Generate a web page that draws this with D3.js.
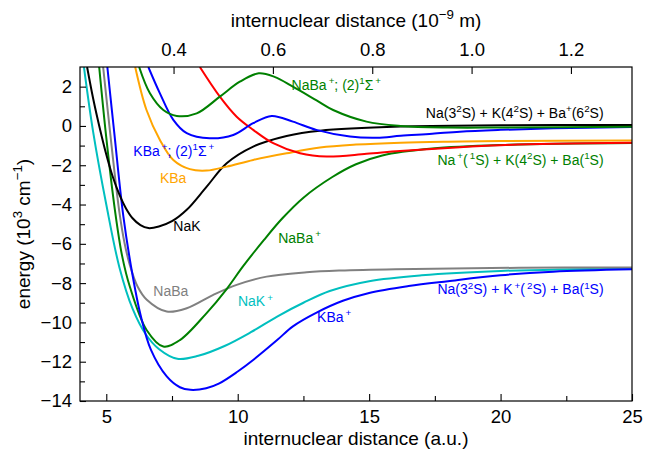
<!DOCTYPE html>
<html>
<head>
<meta charset="utf-8">
<script src="https://cdn.jsdelivr.net/npm/d3@7"></script>
<style>
  html, body { margin: 0; padding: 0; background: #fff; }
  svg { display: block; font-family: "Liberation Sans", Arial, Helvetica, sans-serif; }
</style>
</head>
<body>
<svg id="chart" width="657" height="452"></svg>
<script>
// Potential energy curves, [internuclear distance (a.u.), energy (10^3 cm^-1)]
const nakIon = [[4.15,3],[4.5,-0.3],[5.0,-4.0],[5.5,-7.2],[6.0,-9.3],[6.5,-10.6],[7.0,-11.35],[7.7,-11.85],[8.5,-11.7],[9.5,-11.2],[10.5,-10.5],[11.5,-9.7],[12.5,-9.0],[13.5,-8.4],[15,-7.9],[17,-7.6],[20,-7.38],[25,-7.25]];
const kbaIon = [[5.04,3],[5.3,-0.3],[5.65,-4.6],[6.0,-7.6],[6.3,-9.6],[6.7,-11.4],[7.3,-12.75],[7.8,-13.3],[8.2,-13.43],[8.8,-13.35],[9.3,-13.1],[10,-12.5],[10.6,-11.9],[11.5,-10.9],[12.1,-10.2],[13,-9.5],[14,-8.9],[15,-8.5],[16.5,-8.15],[18,-7.9],[20,-7.6],[22,-7.42],[25,-7.3]];
const nabaIon = [[4.73,3],[5.0,-0.6],[5.33,-4.3],[5.6,-6.6],[5.9,-8.2],[6.54,-10.4],[7.17,-11.23],[7.8,-10.9],[8.8,-9.55],[9.58,-8.3],[10.2,-7.15],[11,-5.8],[11.7,-4.7],[12.5,-3.65],[13.6,-2.6],[14.5,-1.95],[15.5,-1.5],[17.4,-1.15],[20,-0.97],[25,-0.87]];
const naba = [[4.88,3],[5.2,-1.0],[5.5,-4.4],[5.7,-6.0],[5.9,-7.1],[6.2,-8.2],[6.54,-8.85],[7.3,-9.45],[8.06,-9.28],[9.07,-8.6],[9.96,-8.09],[11.1,-7.67],[12.62,-7.45],[13.89,-7.36],[16,-7.29],[20.7,-7.22],[25,-7.2]];
const nak = [[4.27,3],[4.5,1.4],[4.75,-0.1],[5.0,-1.45],[5.25,-2.6],[5.5,-3.5],[5.75,-4.2],[6.0,-4.7],[6.3,-5.05],[6.6,-5.2],[7.0,-5.12],[7.5,-4.85],[8.06,-4.27],[8.82,-3.09],[9.58,-1.9],[10.59,-1.05],[11.86,-0.51],[13.13,-0.24],[16.2,-0.03],[20,0.03],[25,0.05]];
const kba = [[6.1,3],[6.53,0.81],[7.04,-0.71],[7.55,-1.73],[8.18,-2.2],[8.82,-2.27],[9.58,-2.07],[10.59,-1.73],[11.86,-1.39],[13.13,-1.1],[14.5,-0.95],[16.2,-0.85],[18,-0.8],[20,-0.77],[25,-0.74]];
const kbaIon2 = [[6.6,3],[7.04,1.66],[7.55,0.31],[8.06,-0.37],[8.94,-0.63],[9.83,-0.46],[10.59,0.14],[11.29,0.51],[12.1,0.22],[12.99,-0.2],[14.27,-0.54],[15.3,-0.6],[16.2,-0.5],[17.4,-0.4],[18.45,-0.29],[20,-0.2],[22,-0.12],[25,-0.05]];
const nabaIon2 = [[6.25,3],[6.66,1.66],[7.17,0.81],[7.68,0.51],[8.44,0.64],[9.32,1.49],[10.08,2.25],[10.8,2.68],[11.4,2.5],[12.1,2.0],[13,1.3],[13.63,0.81],[14.9,0.22],[16.2,0.0],[18,-0.08],[20,-0.08],[25,-0.04]];
const redState = [[8.56,3],[9.32,1.49],[9.96,0.47],[10.59,-0.2],[11.35,-0.88],[12.37,-1.39],[13.38,-1.56],[14.9,-1.42],[16.17,-1.28],[18.45,-1.08],[20,-0.98],[22,-0.91],[25,-0.86]];

// Axis ticks
const xMajor = [5, 10, 15, 20, 25];
const xMinor = [7.5, 12.5, 17.5, 22.5];
const yMajor = [-14, -12, -10, -8, -6, -4, -2, 0, 2];
const yMinor = [-13, -11, -9, -7, -5, -3, -1, 1];
const nmTicks = [0.4, 0.6, 0.8, 1.0, 1.2];
const BOHR_NM = 0.0529177;

const svg = d3.select("#chart");
const M = { left: 80, right: 632, top: 67, bottom: 401 };

const x = d3.scaleLinear().domain([4, 25]).range([M.left, M.right]);
const y = d3.scaleLinear().domain([-14, 3]).range([M.bottom, M.top]);
const xTop = d3.scaleLinear().domain([4 * BOHR_NM, 25 * BOHR_NM]).range([M.left, M.right]);

svg.append("defs").append("clipPath").attr("id", "plotClip")
  .append("rect").attr("x", M.left).attr("y", M.top)
  .attr("width", M.right - M.left).attr("height", M.bottom - M.top);

// Curves
const line = d3.line().x(d => x(d[0])).y(d => y(d[1])).curve(d3.curveCatmullRom.alpha(0.5));
const curves = [
  { data: nakIon, color: "#00bfbf" },
  { data: naba, color: "#808080" },
  { data: nabaIon, color: "#008000" },
  { data: kbaIon, color: "#0000ff" },
  { data: nak, color: "#000000" },
  { data: kba, color: "#ffa500" },
  { data: redState, color: "#ff0000" },
  { data: kbaIon2, color: "#0000ff" },
  { data: nabaIon2, color: "#008000" }
];
const g = svg.append("g").attr("clip-path", "url(#plotClip)");
curves.forEach(c => {
  g.append("path").attr("d", line(c.data)).attr("fill", "none")
    .attr("stroke", c.color).attr("stroke-width", 2);
});

// Axes (ticks point inward)
const tickFont = 18.5;
const titleFont = 19;
function styleAxis(sel) {
  sel.select(".domain").remove();
  sel.selectAll("line").attr("stroke", "#000").attr("stroke-width", 1.1);
  sel.selectAll("text").attr("font-size", tickFont).attr("fill", "#000")
    .attr("font-family", "Liberation Sans, Arial, sans-serif");
}
svg.append("g").attr("transform", `translate(0,${M.bottom})`)
  .call(d3.axisBottom(x).tickValues(xMajor).tickSizeInner(-7).tickSizeOuter(0).tickPadding(9).tickFormat(d3.format("d")))
  .call(styleAxis);
svg.append("g").attr("transform", `translate(0,${M.bottom})`)
  .call(d3.axisBottom(x).tickValues(xMinor).tickSizeInner(-5).tickSizeOuter(0).tickFormat(""))
  .call(styleAxis);
svg.append("g").attr("transform", `translate(${M.left},0)`)
  .call(d3.axisLeft(y).tickValues(yMajor).tickSizeInner(-6).tickSizeOuter(0).tickPadding(8).tickFormat(d3.format("d")))
  .call(styleAxis);
svg.append("g").attr("transform", `translate(${M.left},0)`)
  .call(d3.axisLeft(y).tickValues(yMinor).tickSizeInner(-5).tickSizeOuter(0).tickFormat(""))
  .call(styleAxis);
svg.append("g").attr("transform", `translate(0,${M.top})`)
  .call(d3.axisTop(xTop).tickValues(nmTicks).tickSizeInner(-7).tickSizeOuter(0).tickPadding(11).tickFormat(d3.format(".1f")))
  .call(styleAxis);

// Frame
svg.append("rect").attr("x", M.left).attr("y", M.top)
  .attr("width", M.right - M.left).attr("height", M.bottom - M.top)
  .attr("fill", "none").attr("stroke", "#000").attr("stroke-width", 1.2);

// Text with superscripts: parts = [[text, isSup, dx], ...]
function richText(parent, parts, size, color) {
  const t = parent.append("text").attr("font-size", size).attr("fill", color);
  let up = false;
  parts.forEach(([s, sup, dx]) => {
    const ts = t.append("tspan").text(s);
    if (sup && !up) { ts.attr("dy", -0.4 * size).attr("font-size", size * 0.7); up = true; }
    else if (sup) { ts.attr("font-size", size * 0.7); }
    else if (!sup && up) { ts.attr("dy", 0.4 * size); up = false; }
    if (dx) ts.attr("dx", dx);
  });
  return t;
}

// Axis titles
const midX = (M.left + M.right) / 2;
richText(svg, [["internuclear distance (a.u.)"]], titleFont, "#000")
  .attr("x", midX).attr("y", 445).attr("text-anchor", "middle");
richText(svg, [["internuclear distance (10"], ["\u22129", true], [" m)"]], titleFont, "#000")
  .attr("x", midX).attr("y", 27).attr("text-anchor", "middle");
richText(svg, [["energy (10"], ["3", true], [" cm"], ["\u22121", true], [")"]], titleFont, "#000")
  .attr("text-anchor", "middle")
  .attr("transform", `translate(30,${(M.top + M.bottom) / 2}) rotate(-90)`);

// Curve labels, anchored in data coordinates
const LS = 14;
const labels = [
  { r: 12.05, e: 1.83, color: "#008000", parts: [["NaBa"], ["+", true, 2], ["; (2)"], ["1", true], ["\u03A3"], ["+", true, 2]] },
  { r: 23.92, e: 0.40, color: "#000000", anchor: "end", parts: [["Na(3"], ["2", true], ["S) + K(4"], ["2", true], ["S) + Ba"], ["+", true], ["(6"], ["2", true], ["S)"]] },
  { r: 23.92, e: -1.99, color: "#008000", anchor: "end", parts: [["Na"], ["+", true, 2], ["("], ["1", true, 2], ["S) + K(4"], ["2", true], ["S) + Ba("], ["1", true], ["S)"]] },
  { r: 23.92, e: -8.56, color: "#0000ff", anchor: "end", parts: [["Na(3"], ["2", true], ["S) + K"], ["+", true, 2], ["("], ["2", true, 2], ["S) + Ba("], ["1", true], ["S)"]] },
  { r: 6.03, e: -1.53, color: "#0000ff", parts: [["KBa"], ["+", true, 2], ["; (2)"], ["1", true], ["\u03A3"], ["+", true, 2]] },
  { r: 7.04, e: -2.91, color: "#ffa500", parts: [["KBa"]] },
  { r: 7.55, e: -5.35, color: "#000000", parts: [["NaK"]] },
  { r: 11.54, e: -5.96, color: "#008000", parts: [["NaBa"], ["+", true, 2]] },
  { r: 6.79, e: -8.66, color: "#808080", parts: [["NaBa"]] },
  { r: 10.01, e: -9.17, color: "#00bfbf", parts: [["NaK"], ["+", true, 2]] },
  { r: 13.02, e: -9.98, color: "#0000ff", parts: [["KBa"], ["+", true, 2]] }
];
labels.forEach(l => {
  richText(svg, l.parts, LS, l.color)
    .attr("x", x(l.r)).attr("y", y(l.e))
    .attr("text-anchor", l.anchor || "start");
});
</script>
</body>
</html>
